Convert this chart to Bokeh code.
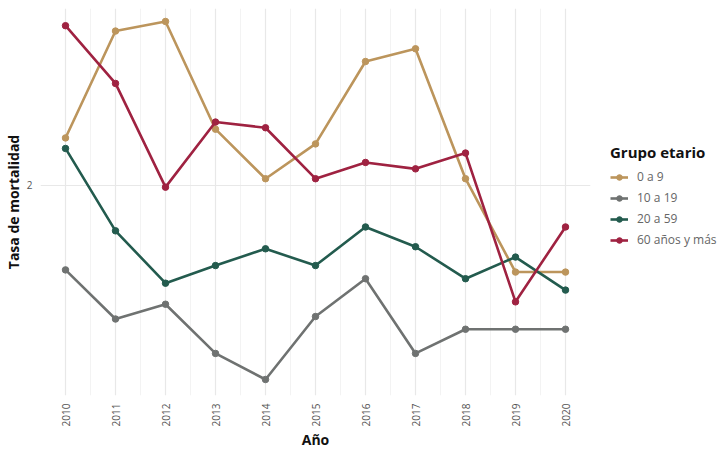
import math
from bokeh.plotting import figure
from bokeh.models import FixedTicker, Range1d, Legend, LegendItem
from bokeh.embed import file_html
from bokeh.resources import INLINE

years = [2010, 2011, 2012, 2013, 2014, 2015, 2016, 2017, 2018, 2019, 2020]
grupos = ["0 a 9", "10 a 19", "20 a 59", "60 años y más"]
v_0_9 = [2.30, 3.15, 3.24, 2.36, 2.04, 2.26, 2.88, 2.99, 2.04, 1.55, 1.55]
v_10_19 = [1.56, 1.35, 1.41, 1.22, 1.13, 1.36, 1.52, 1.22, 1.31, 1.31, 1.31]
v_20_59 = [2.23, 1.75, 1.50, 1.58, 1.66, 1.58, 1.77, 1.67, 1.52, 1.62, 1.47]
v_60 = [3.20, 2.70, 1.99, 2.41, 2.37, 2.04, 2.14, 2.10, 2.20, 1.42, 1.77]
colores = ["#BC955C", "#6F7271", "#235B4E", "#9F2241"]
y_ticks = [2]

FONT = "Open Sans"

p = figure(frame_width=550, frame_height=387,
           x_range=Range1d(2009.5, 2020.5), y_range=Range1d(1.078, 3.366),
           y_axis_type="log", output_backend="svg", toolbar_location=None,
           min_border_left=0, min_border_top=8, min_border_bottom=0, min_border_right=0)
p.outline_line_color = None

items = []
for name, vals, col in zip(grupos, [v_0_9, v_10_19, v_20_59, v_60], colores):
    r1 = p.line(years, vals, line_color=col, line_width=2.6)
    r2 = p.scatter(years, vals, size=6.5, fill_color=col, line_color=col)
    items.append(LegendItem(label=name, renderers=[r1, r2]))

p.xaxis.ticker = FixedTicker(ticks=years, minor_ticks=[y + 0.5 for y in range(2009, 2021)])
p.yaxis.ticker = FixedTicker(ticks=y_ticks, minor_ticks=[])
p.yaxis.major_label_overrides = {2: "2"}

for ax in (p.xaxis[0], p.yaxis[0]):
    ax.axis_line_color = None
    ax.major_tick_line_color = None
    ax.minor_tick_line_color = None
    ax.major_label_text_font = FONT
    ax.major_label_text_font_size = "10px"
    ax.major_label_text_color = "#555555"
    ax.axis_label_text_font = FONT
    ax.axis_label_text_font_size = "14px"
    ax.axis_label_text_font_style = "bold"
    ax.axis_label_text_color = "#111111"

p.xaxis.major_label_standoff = 2
p.xaxis.axis_label_standoff = 1
p.yaxis.major_label_standoff = 2
p.yaxis.axis_label_standoff = 1

p.xaxis.axis_label = "Año"
p.yaxis.axis_label = "Tasa de mortalidad"
p.xaxis.major_label_orientation = math.pi / 2

p.xgrid.grid_line_color = "#E8E8E8"
p.xgrid.grid_line_width = 1.2
p.xgrid.minor_grid_line_color = "#F3F3F3"
p.xgrid.minor_grid_line_width = 1
p.ygrid.grid_line_color = "#E8E8E8"
p.ygrid.grid_line_width = 1.2

legend = Legend(items=items, title="Grupo etario", location=(20, 147))
legend.title_text_font = FONT
legend.title_text_font_style = "bold"
legend.title_text_font_size = "15px"
legend.title_text_color = "#111111"
legend.title_standoff = 6
legend.label_text_font = FONT
legend.label_text_font_size = "12px"
legend.label_text_color = "#666666"
legend.label_standoff = 9
legend.glyph_width = 18
legend.glyph_height = 14
legend.spacing = 4
legend.border_line_color = None
legend.background_fill_alpha = 0
legend.margin = 0
legend.padding = 6
p.add_layout(legend, "right")

open("out.html", "w").write(file_html(p, INLINE))
